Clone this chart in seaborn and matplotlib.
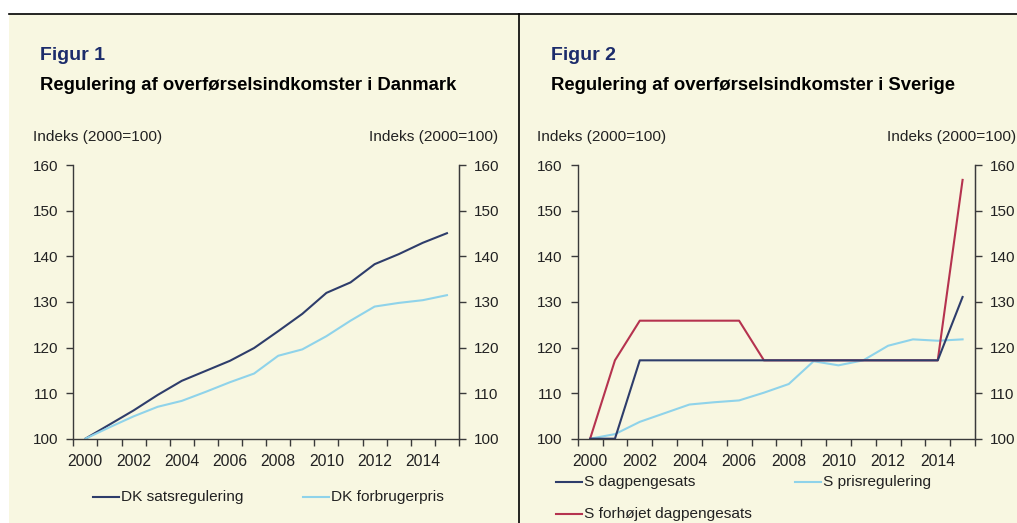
import numpy as np
import pandas as pd
import matplotlib
matplotlib.use('Agg')
import matplotlib.pyplot as plt
from matplotlib.patches import Rectangle
from matplotlib.lines import Line2D
import seaborn as sns

# data
years = list(range(2000, 2016))
dk_sats = [100, 103.1, 106.2, 109.6, 112.7, 114.9, 117.1, 119.9, 123.6, 127.4,
           132.0, 134.3, 138.3, 140.5, 143.0, 145.1]
dk_forbrug = [100, 102.5, 104.9, 107.0, 108.3, 110.3, 112.4, 114.3, 118.2, 119.6,
              122.5, 125.9, 129.0, 129.8, 130.4, 131.5]
s_dagpenge = [100, 100, 117.2, 117.2, 117.2, 117.2, 117.2, 117.2, 117.2, 117.2,
              117.2, 117.2, 117.2, 117.2, 117.2, 131.1]
s_pris = [100, 101.0, 103.7, 105.6, 107.5, 108.0, 108.4, 110.1, 112.0, 117.0,
          116.1, 117.2, 120.4, 121.8, 121.5, 121.8]
s_forhoejet = [100, 117.2, 125.9, 125.9, 125.9, 125.9, 125.9, 117.2, 117.2, 117.2,
               117.2, 117.2, 117.2, 117.2, 117.2, 156.8]

y_ticks = [100, 110, 120, 130, 140, 150, 160]
x_labels = [str(y) for y in years[::2]]

navy = '#2e3d6b'
light = '#8fd3ea'
red = '#b5334f'
beige = '#f8f7e1'
text_col = '#222222'
spine_col = '#3a3a3a'

plt.rcParams['font.family'] = ['Liberation Sans', 'DejaVu Sans']

W, H = 1017, 523
fig = plt.figure(figsize=(W / 100, H / 100), dpi=100)
fig.patch.set_facecolor('white')

# background panels and frame lines
fig.add_artist(Rectangle((9 / W, 0), 1 - 9 / W, (H - 14) / H, transform=fig.transFigure,
                         facecolor=beige, edgecolor='none', zorder=0))
fig.add_artist(Line2D([9 / W, 1], [1 - 14 / H, 1 - 14 / H], transform=fig.transFigure,
                      color='black', lw=1.2))
fig.add_artist(Line2D([519.3 / W, 519.3 / W], [0, 1 - 14 / H], transform=fig.transFigure,
                      color='black', lw=1.2))


def make_df(series):
    rows = []
    for name, vals in series.items():
        for i, v in enumerate(vals):
            rows.append({'pos': i, 'value': v, 'series': name})
    return pd.DataFrame(rows)


def style_axes(ax):
    ax.set_facecolor('none')
    ax.set_xlim(-0.5, len(years) - 0.5)
    ax.set_ylim(100, 160)
    ax.set_yticks(y_ticks)
    ax.set_yticklabels([str(t) for t in y_ticks])
    # tick marks at category boundaries, labels at category centres
    ax.set_xticks(np.arange(-0.5, len(years), 1.0))
    ax.set_xticklabels([])
    ax.set_xticks(range(0, len(years), 2), minor=True)
    ax.set_xticklabels(x_labels, minor=True)
    ax.tick_params(axis='x', which='major', direction='out', length=5, width=1, color=spine_col)
    ax.tick_params(axis='x', which='minor', length=0, pad=11, labelsize=11.3, labelcolor=text_col)
    ax.tick_params(axis='y', direction='out', length=5, width=1, color=spine_col,
                   labelsize=11, labelcolor=text_col, pad=6)
    ax.spines['top'].set_visible(False)
    for s in ['left', 'right', 'bottom']:
        ax.spines[s].set_color(spine_col)
        ax.spines[s].set_linewidth(1)
    ax.set_xlabel('')
    ax.set_ylabel('')
    ax.grid(False)
    tw = ax.twinx()
    tw.set_ylim(100, 160)
    tw.set_yticks(y_ticks)
    tw.set_yticklabels([str(t) for t in y_ticks])
    tw.tick_params(axis='y', direction='out', length=5, width=1, color=spine_col,
                   labelsize=11, labelcolor=text_col, pad=6)
    tw.spines['top'].set_visible(False)
    tw.spines['right'].set_color(spine_col)
    tw.spines['left'].set_visible(False)
    tw.spines['bottom'].set_visible(False)
    return tw


bottom = (H - 438.7) / H
height = (438.7 - 165.3) / H

# Figur 1
ax1 = fig.add_axes([73.3 / W, bottom, (459 - 73.3) / W, height])
df1 = make_df({'DK satsregulering': dk_sats, 'DK forbrugerpris': dk_forbrug})
sns.lineplot(data=df1, x='pos', y='value', hue='series', ax=ax1,
             palette={'DK satsregulering': navy, 'DK forbrugerpris': light},
             linewidth=1.5, legend=False)
style_axes(ax1)

# Figur 2
ax2 = fig.add_axes([577.7 / W, bottom, (975 - 577.7) / W, height])
df2 = make_df({'S dagpengesats': s_dagpenge, 'S prisregulering': s_pris,
               'S forhøjet dagpengesats': s_forhoejet})
sns.lineplot(data=df2, x='pos', y='value', hue='series', ax=ax2,
             palette={'S dagpengesats': navy, 'S prisregulering': light,
                      'S forhøjet dagpengesats': red},
             hue_order=['S prisregulering', 'S forhøjet dagpengesats', 'S dagpengesats'],
             linewidth=1.5, legend=False)
style_axes(ax2)


def ftext(x, y, s, **kw):
    fig.text(x / W, 1 - y / H, s, **kw)


ftext(40, 55, 'Figur 1', fontsize=14, fontweight='bold', color='#1c2c6b', va='center')
ftext(40, 85, 'Regulering af overførselsindkomster i Danmark', fontsize=13.3,
      fontweight='bold', color='black', va='center')
ftext(551, 55, 'Figur 2', fontsize=14, fontweight='bold', color='#1c2c6b', va='center')
ftext(551, 85, 'Regulering af overførselsindkomster i Sverige', fontsize=13.3,
      fontweight='bold', color='black', va='center')

for x, ha in [(33, 'left'), (498, 'right'), (537, 'left'), (1016, 'right')]:
    ftext(x, 137, 'Indeks (2000=100)', fontsize=11.1, color=text_col, va='center', ha=ha)


def legend_item(x, y, label, color):
    fig.add_artist(Line2D([x / W, (x + 26) / W], [1 - y / H, 1 - y / H],
                          transform=fig.transFigure, color=color, lw=1.5))
    ftext(x + 28, y, label, fontsize=11.1, color=text_col, va='center')


legend_item(93, 497, 'DK satsregulering', navy)
legend_item(303, 497, 'DK forbrugerpris', light)
legend_item(556, 482, 'S dagpengesats', navy)
legend_item(795, 482, 'S prisregulering', light)
legend_item(556, 514, 'S forhøjet dagpengesats', red)

fig.savefig('out.png', dpi=100, facecolor='white')
